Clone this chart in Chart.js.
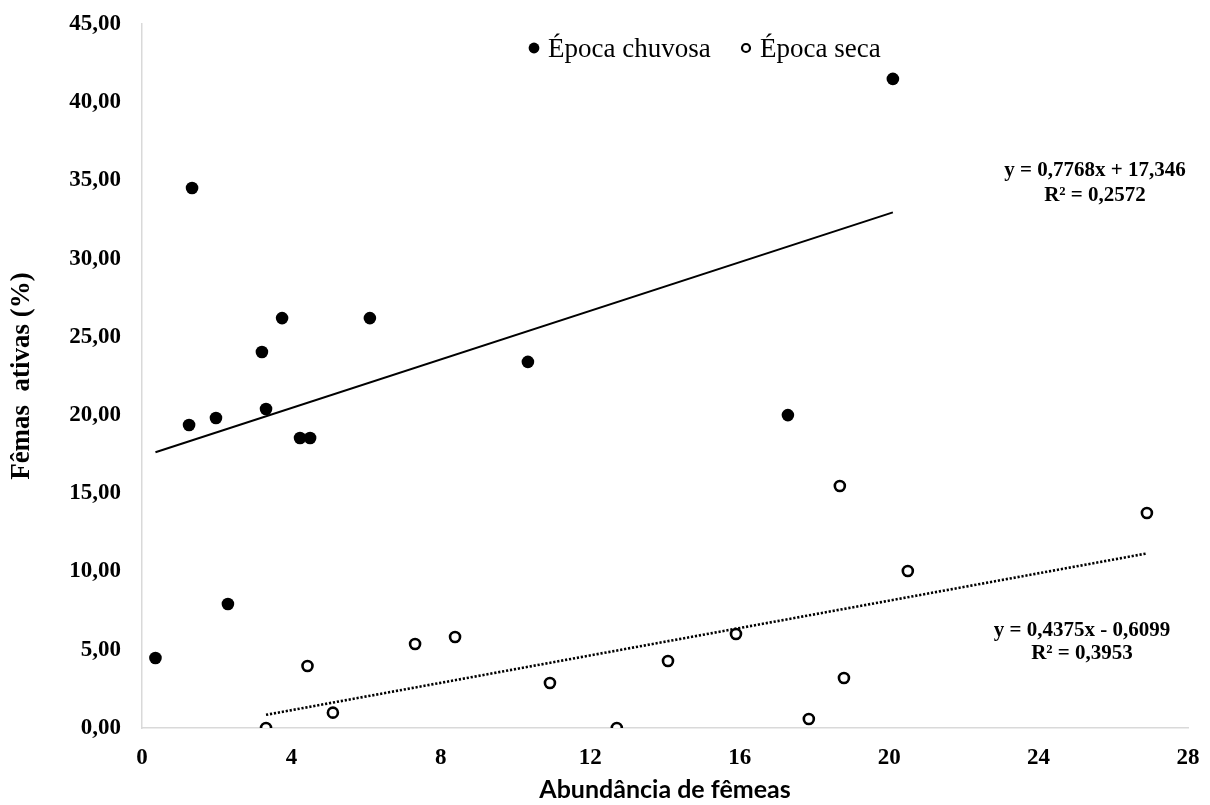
<!DOCTYPE html>
<html>
<head>
<meta charset="utf-8">
<script src="https://cdn.jsdelivr.net/npm/chart.js@4.4.1/dist/chart.umd.min.js"></script>
<style>
html,body{margin:0;padding:0;background:#fff;}
#wrap{width:1210px;height:805px;position:relative;}
</style>
</head>
<body>
<div id="wrap"><canvas id="c" width="1210" height="805"></canvas></div>
<script>
// Data
const chuvosaX = [0.36, 1.26, 1.34, 1.98, 2.30, 3.21, 3.32, 3.75, 4.23, 4.50, 6.10, 10.33, 17.29, 20.10];
const chuvosaY = [4.47, 19.37, 34.52, 19.82, 7.93, 24.03, 20.39, 26.20, 18.54, 18.54, 26.20, 23.40, 20.00, 41.49];
const secaX = [3.32, 4.43, 5.11, 7.31, 8.38, 10.92, 12.71, 14.08, 15.90, 17.85, 18.68, 18.79, 20.50, 26.90];
const secaY = [0.00, 3.96, 0.98, 5.37, 5.82, 2.88, 0.00, 4.28, 6.01, 0.58, 15.47, 3.20, 10.04, 13.74];
// Trendline coefficients as printed: [slope, intercept]
const chuvosaFit = [0.7768, 17.346];
const secaFit = [0.4375, -0.6099];
const seriesNames = ['Época chuvosa', 'Época seca'];
const eqLabels = [['y = 0,7768x + 17,346', 'R² = 0,2572'], ['y = 0,4375x - 0,6099', 'R² = 0,3953']];
const xTicks = [0, 4, 8, 12, 16, 20, 24, 28];
const yTicks = [0, 5, 10, 15, 20, 25, 30, 35, 40, 45];
const xTitle = 'Abundância de fêmeas';
const yTitle = 'Fêmas  ativas (%)';

const pts = (xs, ys) => xs.map((x, i) => ({x: x, y: ys[i]}));
const trend = (xs, fit) => {
  const a = Math.min(...xs), b = Math.max(...xs);
  return [{x: a, y: fit[0] * a + fit[1]}, {x: b, y: fit[0] * b + fit[1]}];
};

const serif = "'Liberation Serif', 'Times New Roman', serif";

const overlay = {
  id: 'overlay',
  afterDraw(chart) {
    const ctx = chart.ctx;
    ctx.save();
    // Legend
    ctx.fillStyle = '#000';
    ctx.beginPath(); ctx.arc(534, 48, 5.4, 0, Math.PI * 2); ctx.fill();
    ctx.font = '27px ' + serif;
    ctx.textAlign = 'left'; ctx.textBaseline = 'alphabetic';
    ctx.fillText(seriesNames[0], 548, 57);
    ctx.beginPath(); ctx.arc(746, 48, 4, 0, Math.PI * 2);
    ctx.lineWidth = 2.2; ctx.strokeStyle = '#000'; ctx.fillStyle = '#fff'; ctx.fill(); ctx.stroke();
    ctx.fillStyle = '#000';
    ctx.fillText(seriesNames[1], 760, 57);
    // Equations
    ctx.font = 'bold 21px ' + serif;
    ctx.textAlign = 'center';
    ctx.fillText(eqLabels[0][0], 1095, 176);
    ctx.fillText(eqLabels[0][1], 1095, 201);
    ctx.fillText(eqLabels[1][0], 1082, 636);
    ctx.fillText(eqLabels[1][1], 1082, 659);
    ctx.restore();
  }
};

new Chart(document.getElementById('c'), {
  type: 'scatter',
  data: {
    datasets: [
      {label: 'trend1', data: trend(chuvosaX, chuvosaFit), showLine: true, borderColor: '#000', borderWidth: 2, pointRadius: 0, fill: false},
      {label: 'trend2', data: trend(secaX, secaFit), showLine: true, borderColor: '#000', borderWidth: 2.6, borderDash: [2.2, 1.8], borderCapStyle: 'butt', pointRadius: 0, fill: false},
      {label: seriesNames[0], data: pts(chuvosaX, chuvosaY), pointRadius: 6.3, pointBackgroundColor: '#000', pointBorderColor: '#000', pointBorderWidth: 0},
      {label: seriesNames[1], data: pts(secaX, secaY), pointRadius: 5, pointBackgroundColor: '#fff', pointBorderColor: '#000', pointBorderWidth: 2.6}
    ]
  },
  options: {
    responsive: false,
    animation: false,
    layout: {padding: {top: 24, right: 22, left: 0, bottom: 0}},
    plugins: {legend: {display: false}, tooltip: {enabled: false}},
    scales: {
      x: {
        type: 'linear', min: 0, max: 28,
        afterBuildTicks: s => { s.ticks = xTicks.map(v => ({value: v})); },
        afterFit: s => { s.height = 77; s.paddingLeft = 0; s.paddingRight = 0; },
        grid: {display: false, drawTicks: false},
        border: {display: true, color: '#d9d9d9', width: 1.5},
        ticks: {padding: 16, color: '#000', font: {family: serif, size: 23, weight: 'bold'}, callback: v => String(v)},
        title: {display: true, text: xTitle, color: '#000', padding: {top: 0, bottom: 0}, font: {family: 'Lato', size: 25, weight: 'bold'}}
      },
      y: {
        type: 'linear', min: 0, max: 45,
        afterBuildTicks: s => { s.ticks = yTicks.map(v => ({value: v})); },
        afterFit: s => { s.width = 142; s.paddingTop = 0; s.paddingBottom = 0; },
        grid: {display: false, drawTicks: false},
        border: {display: true, color: '#d9d9d9', width: 1.5},
        ticks: {padding: 21, color: '#000', font: {family: serif, size: 23, weight: 'bold'}, callback: v => v.toFixed(2).replace('.', ',')},
        title: {display: true, text: yTitle, color: '#000', padding: {top: 6, bottom: 0}, font: {family: serif, size: 27, weight: 'bold'}}
      }
    }
  },
  plugins: [overlay]
});
</script>
</body>
</html>
